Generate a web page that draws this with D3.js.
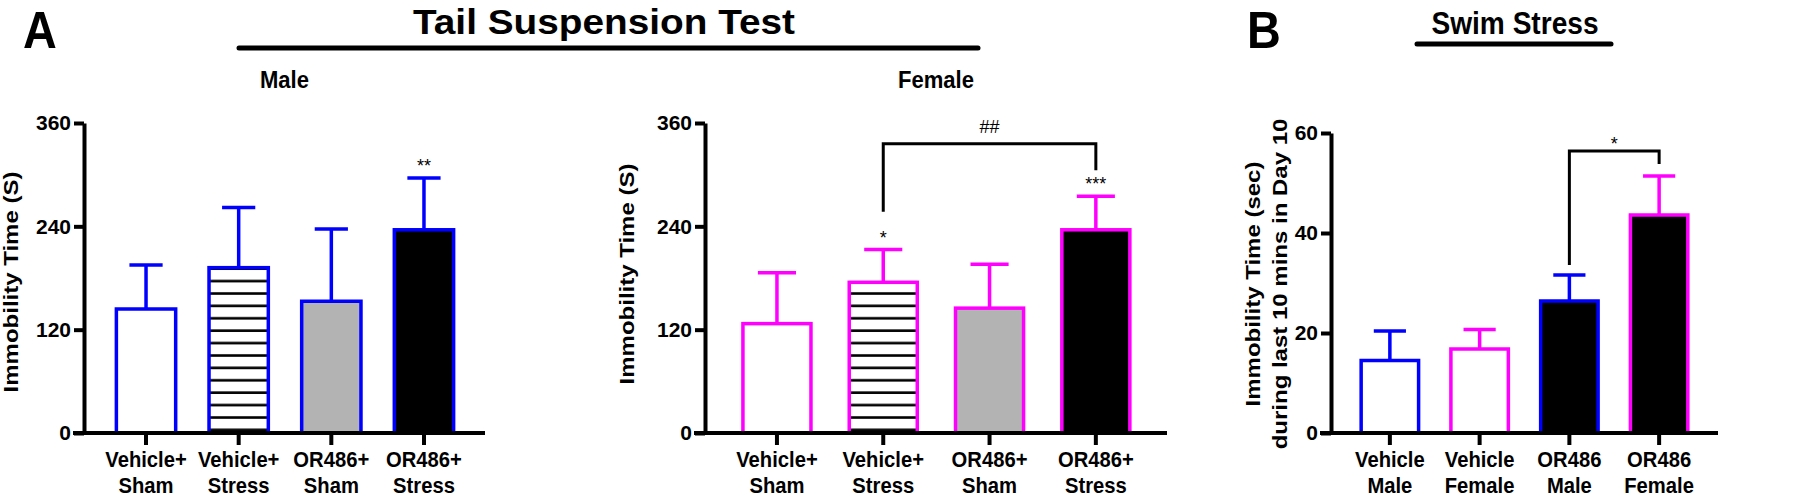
<!DOCTYPE html>
<html><head><meta charset="utf-8">
<script src="https://cdn.jsdelivr.net/npm/d3@7"></script>
<style>
body{margin:0;background:#fff}
svg{display:block}
text{font-family:"Liberation Sans",Arial,Helvetica,sans-serif;fill:#000}
</style>
</head><body>
<svg id="c" width="1800" height="498"></svg>
<script>
// ---------------- DATA ----------------
const tstCategories = ["Vehicle+\nSham", "Vehicle+\nStress", "OR486+\nSham", "OR486+\nStress"];
const tstTicks = [0, 120, 240, 360];
const maleMeans = [144, 192, 153, 236];
const maleSEM = [51, 70, 84, 60];
const maleSig = ["", "", "", "**"];
const femaleMeans = [127, 175, 145, 236];
const femaleSEM = [59, 38, 51, 39];
const femaleSig = ["", "*", "", "***"];
const femaleBracket = {from: 1, to: 3, level: 336, leftEnd: 257, rightEnd: 305, label: "##"};
const tstFills = ["white", "hatch", "#b3b3b3", "black"];

const swimCategories = ["Vehicle\nMale", "Vehicle\nFemale", "OR486\nMale", "OR486\nFemale"];
const swimTicks = [0, 20, 40, 60];
const swimMeans = [14.5, 16.8, 26.4, 43.6];
const swimSEM = [5.9, 3.9, 5.2, 7.8];
const swimSig = ["", "", "", ""];
const swimBracket = {from: 2, to: 3, level: 56.4, leftEnd: 33.6, rightEnd: 53.8, label: "*"};
const swimFills = ["white", "white", "black", "black"];

const BLUE = "#0000ff", MAG = "#ff00ff";
const swimStrokes = [BLUE, MAG, BLUE, MAG];

// ---------------- DRAW ----------------
const svg = d3.select("#c");
const defs = svg.append("defs");
const pat = defs.append("pattern").attr("id", "hatch")
  .attr("patternUnits", "userSpaceOnUse").attr("width", 10).attr("height", 12.4).attr("y", 2);
pat.append("rect").attr("width", 10).attr("height", 12.4).attr("fill", "#fff");
pat.append("rect").attr("y", 5).attr("width", 10).attr("height", 2.6).attr("fill", "#000");

function sText(parent, x, y, str, o) {
  const g = parent.append("g")
    .attr("transform", `translate(${x},${y}) scale(${o.sx || 1},1)` + (o.rotate ? " rotate(-90)" : ""));
  const t = g.append("text")
    .attr("text-anchor", o.anchor || "middle")
    .attr("font-size", o.size)
    .attr("font-weight", o.weight || "bold")
    .text(str);
  if (o.textLength) t.attr("textLength", o.textLength).attr("lengthAdjust", "spacingAndGlyphs");
  return t;
}

function panel(cfg) {
  const g = svg.append("g");
  const y = d3.scaleLinear().domain([0, cfg.max]).range([433, cfg.top]);
  const x = d3.scaleBand().domain(cfg.cats).range(cfg.xr).paddingInner(0.36).paddingOuter(0.18);
  const y0 = y(0);
  const bw = x.bandwidth();
  const data = cfg.cats.map((c, i) => ({c, m: cfg.means[i], s: cfg.sem[i], fill: cfg.fills[i],
    stroke: cfg.strokes[i], sig: cfg.sig[i]}));

  // error bars
  const eb = g.append("g").selectAll("g").data(data).join("g");
  eb.append("line")
    .attr("x1", d => x(d.c) + bw / 2).attr("x2", d => x(d.c) + bw / 2)
    .attr("y1", d => y(d.m)).attr("y2", d => y(d.m + d.s))
    .attr("stroke", d => d.stroke).attr("stroke-width", 3.5);
  eb.append("line")
    .attr("x1", d => x(d.c) + bw / 2 - bw * 0.28).attr("x2", d => x(d.c) + bw / 2 + bw * 0.28)
    .attr("y1", d => y(d.m + d.s)).attr("y2", d => y(d.m + d.s))
    .attr("stroke", d => d.stroke).attr("stroke-width", 3.5);

  // bars
  g.append("g").selectAll("rect").data(data).join("rect")
    .attr("x", d => x(d.c)).attr("width", bw)
    .attr("y", d => y(d.m)).attr("height", d => y0 - y(d.m))
    .attr("fill", d => d.fill === "hatch" ? "url(#hatch)" : d.fill)
    .attr("stroke", d => d.stroke).attr("stroke-width", 3.5);

  // significance stars
  g.append("g").selectAll("text").data(data.filter(d => d.sig)).join("text")
    .attr("x", d => x(d.c) + bw / 2).attr("y", d => y(d.m + d.s) - 6)
    .attr("text-anchor", "middle").attr("font-size", 18).text(d => d.sig);

  // y axis
  const ya = g.append("g").attr("transform", `translate(${cfg.axisX},0)`)
    .call(d3.axisLeft(y).tickValues(cfg.ticks).tickSize(10).tickSizeOuter(0).tickPadding(3));
  ya.select(".domain").attr("stroke", "#000").attr("stroke-width", 4);
  ya.selectAll(".tick line").attr("stroke", "#000").attr("stroke-width", 4);
  ya.selectAll(".tick text").attr("font-size", 21).attr("font-weight", "bold")
    .attr("font-family", "'Liberation Sans',Arial,sans-serif").attr("fill", "#000");

  // x axis
  g.append("line").attr("x1", cfg.axisX - 11).attr("x2", cfg.xEnd).attr("y1", y0).attr("y2", y0)
    .attr("stroke", "#000").attr("stroke-width", 4);
  g.append("g").selectAll("line").data(cfg.cats).join("line")
    .attr("x1", d => x(d) + bw / 2).attr("x2", d => x(d) + bw / 2)
    .attr("y1", y0).attr("y2", y0 + 12).attr("stroke", "#000").attr("stroke-width", 4);
  cfg.cats.forEach(c => {
    c.split("\n").forEach((ln, i) => sText(g, x(c) + bw / 2, y0 + 34 + i * 26, ln, {size: 22, sx: 0.92}));
  });

  // bracket
  if (cfg.bracket) {
    const b = cfg.bracket;
    const xa = x(cfg.cats[b.from]) + bw / 2, xb = x(cfg.cats[b.to]) + bw / 2;
    g.append("path")
      .attr("d", `M${xa},${y(b.leftEnd)}V${y(b.level)}H${xb}V${y(b.rightEnd)}`)
      .attr("fill", "none").attr("stroke", "#000").attr("stroke-width", 3);
    g.append("text").attr("x", (xa + xb) / 2).attr("y", y(b.level) - cfg.bracketLabelGap)
      .attr("text-anchor", "middle").attr("font-size", 18).text(b.label);
  }

  // y label(s)
  cfg.ylabel.forEach(l => sText(g, l.x, cfg.ylabelY, l.t, {size: 24, sx: 0.85, rotate: true}));
  if (cfg.subtitle) sText(g, (cfg.axisX + cfg.xEnd) / 2, 88, cfg.subtitle, {size: 24, sx: 0.92});
}

panel({cats: tstCategories, means: maleMeans, sem: maleSEM, sig: maleSig, fills: tstFills,
  strokes: [BLUE, BLUE, BLUE, BLUE], ticks: tstTicks, max: 360, top: 123,
  axisX: 84, xr: [99.7, 470.3], xEnd: 485, subtitle: "Male",
  ylabel: [{t: "Immobility Time (S)", x: 18}], ylabelY: 282});

panel({cats: tstCategories, means: femaleMeans, sem: femaleSEM, sig: femaleSig, fills: tstFills,
  strokes: [MAG, MAG, MAG, MAG], ticks: tstTicks, max: 360, top: 123,
  axisX: 705, xr: [723.8, 1149], xEnd: 1167, subtitle: "Female",
  bracket: femaleBracket, bracketLabelGap: 11,
  ylabel: [{t: "Immobility Time (S)", x: 634}], ylabelY: 274});

panel({cats: swimCategories, means: swimMeans, sem: swimSEM, sig: swimSig, fills: swimFills,
  strokes: swimStrokes, ticks: swimTicks, max: 60, top: 133,
  axisX: 1331, xr: [1345, 1704], xEnd: 1718,
  bracket: swimBracket, bracketLabelGap: 1,
  ylabel: [{t: "Immobility Time (sec)", x: 1260}, {t: "during last 10 mins in Day 10", x: 1287}], ylabelY: 284});

// headings
sText(svg, 23, 47.5, "A", {size: 52, sx: 0.9, anchor: "start"});
sText(svg, 1247, 47.5, "B", {size: 52, sx: 0.9, anchor: "start"});
sText(svg, 604, 34, "Tail Suspension Test", {size: 35, textLength: 382});
sText(svg, 1515, 34, "Swim Stress", {size: 32, textLength: 167});
svg.append("line").attr("x1", 239).attr("x2", 978).attr("y1", 48).attr("y2", 48)
  .attr("stroke", "#000").attr("stroke-width", 5).attr("stroke-linecap", "round");
svg.append("line").attr("x1", 1417).attr("x2", 1611).attr("y1", 44).attr("y2", 44)
  .attr("stroke", "#000").attr("stroke-width", 5).attr("stroke-linecap", "round");
</script>
</body></html>
